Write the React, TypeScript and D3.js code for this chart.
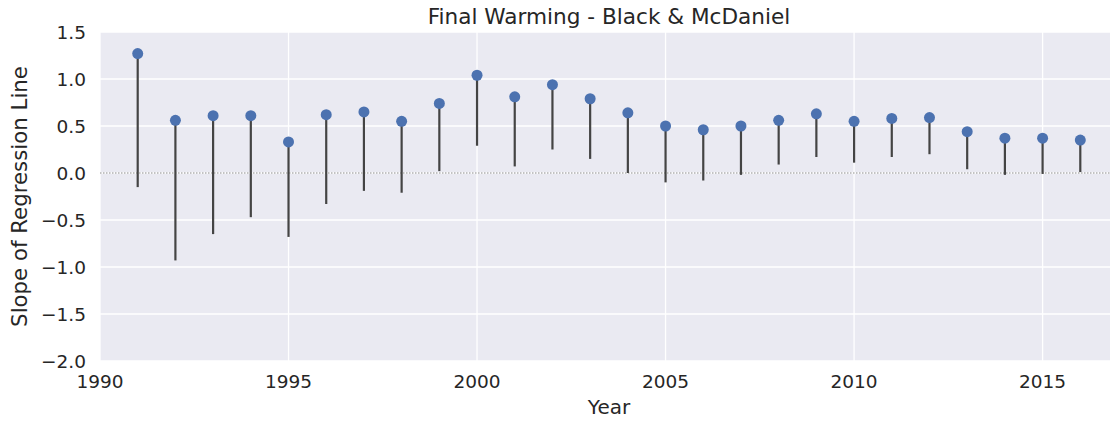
import React, { useEffect, useRef } from "react";
import * as d3 from "d3";

// slope of regression line per year, with lower end of the stem
const years = [
  1991, 1992, 1993, 1994, 1995, 1996, 1997, 1998, 1999, 2000, 2001, 2002, 2003,
  2004, 2005, 2006, 2007, 2008, 2009, 2010, 2011, 2012, 2013, 2014, 2015, 2016,
];
const slopes = [
  1.27, 0.56, 0.61, 0.61, 0.33, 0.62, 0.65, 0.55, 0.74, 1.04, 0.81, 0.94, 0.79,
  0.64, 0.5, 0.46, 0.5, 0.56, 0.63, 0.55, 0.58, 0.59, 0.44, 0.37, 0.37, 0.35,
];
const lows = [
  -0.15, -0.93, -0.65, -0.47, -0.68, -0.33, -0.19, -0.21, 0.02, 0.29, 0.07,
  0.25, 0.15, 0.0, -0.1, -0.08, -0.02, 0.09, 0.17, 0.11, 0.17, 0.2, 0.04,
  -0.02, -0.01, 0.01,
];
const xTicks = [1990, 1995, 2000, 2005, 2010, 2015];
const yTicks = [-2.0, -1.5, -1.0, -0.5, 0.0, 0.5, 1.0, 1.5];

const W = 1110;
const H = 421;
const textColor = "#262626";
const font = "DejaVu Sans, sans-serif";

export default function App() {
  const svgRef = useRef<SVGSVGElement>(null);

  useEffect(() => {
    const svg = d3.select(svgRef.current);
    svg.selectAll("*").remove();

    const left = 100;
    const right = 1118; // axes run past the cropped image edge
    const top = 32;
    const bottom = 361;

    const x = d3.scaleLinear().domain([1990, 2017]).range([left, right]);
    const y = d3.scaleLinear().domain([-2.0, 1.5]).range([bottom, top]);

    // background
    svg
      .append("rect")
      .attr("x", left)
      .attr("y", top)
      .attr("width", right - left)
      .attr("height", bottom - top)
      .attr("fill", "#eaeaf2");

    // grid
    const grid = svg.append("g").attr("stroke", "#fff").attr("stroke-width", 1.3);
    grid
      .selectAll("line.v")
      .data(xTicks)
      .join("line")
      .attr("x1", (d) => x(d))
      .attr("x2", (d) => x(d))
      .attr("y1", top)
      .attr("y2", bottom);
    grid
      .selectAll("line.h")
      .data(yTicks)
      .join("line")
      .attr("x1", left)
      .attr("x2", right)
      .attr("y1", (d) => y(d))
      .attr("y2", (d) => y(d));

    // zero line
    svg
      .append("line")
      .attr("x1", left)
      .attr("x2", right)
      .attr("y1", y(0))
      .attr("y2", y(0))
      .attr("stroke", "#8a8a8a")
      .attr("stroke-width", 1)
      .attr("stroke-dasharray", "1.5,1.5");

    // stems
    svg
      .append("g")
      .selectAll("line")
      .data(years)
      .join("line")
      .attr("x1", (d) => x(d))
      .attr("x2", (d) => x(d))
      .attr("y1", (d, i) => y(lows[i]))
      .attr("y2", (d, i) => y(slopes[i]))
      .attr("stroke", "#444")
      .attr("stroke-width", 2.2);

    // dots
    svg
      .append("g")
      .selectAll("circle")
      .data(years)
      .join("circle")
      .attr("cx", (d) => x(d))
      .attr("cy", (d, i) => y(slopes[i]))
      .attr("r", 5.5)
      .attr("fill", "#4c72b0");

    // tick labels
    svg
      .append("g")
      .selectAll("text")
      .data(xTicks)
      .join("text")
      .attr("x", (d) => x(d))
      .attr("y", 388)
      .attr("text-anchor", "middle")
      .attr("font-size", 18.5)
      .attr("font-family", font)
      .attr("fill", textColor)
      .text((d) => d);

    svg
      .append("g")
      .selectAll("text")
      .data(yTicks)
      .join("text")
      .attr("x", 86)
      .attr("y", (d) => y(d))
      .attr("dy", "0.36em")
      .attr("text-anchor", "end")
      .attr("font-size", 18.5)
      .attr("font-family", font)
      .attr("fill", textColor)
      .text((d) => (d < 0 ? "\u2212" + d3.format(".1f")(-d) : d3.format(".1f")(d)));

    // axis labels and title
    svg
      .append("text")
      .attr("x", (left + right) / 2)
      .attr("y", 414)
      .attr("text-anchor", "middle")
      .attr("font-size", 20)
      .attr("font-family", font)
      .attr("fill", textColor)
      .text("Year");

    svg
      .append("text")
      .attr("transform", `translate(27,${(top + bottom) / 2}) rotate(-90)`)
      .attr("text-anchor", "middle")
      .attr("font-size", 21.3)
      .attr("font-family", font)
      .attr("fill", textColor)
      .text("Slope of Regression Line");

    svg
      .append("text")
      .attr("x", (left + right) / 2)
      .attr("y", 24)
      .attr("text-anchor", "middle")
      .attr("font-size", 21.6)
      .attr("font-family", font)
      .attr("fill", textColor)
      .text("Final Warming - Black & McDaniel");
  }, []);

  return (
    <svg
      ref={svgRef}
      width={W}
      height={H}
      style={{ position: "absolute", left: 0, top: 0, background: "#fff" }}
    />
  );
}
